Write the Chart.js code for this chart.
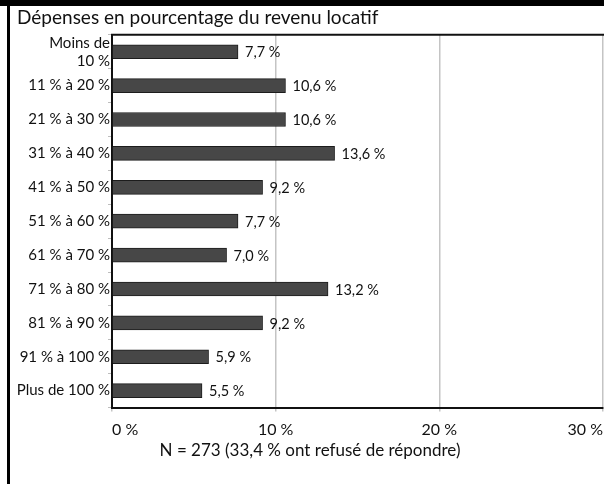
<!DOCTYPE html>
<html lang="fr">
<head>
    <meta charset="UTF-8">
    <title>Dépenses en pourcentage du revenu locatif</title>
    <script src="https://cdn.jsdelivr.net/npm/chart.js"></script>
    <style>
        body { margin: 0; background: #fff; }
        .wrap { position: relative; width: 604px; height: 484px; }
        .frame-top { position: absolute; left: 0; top: 0; width: 604px; height: 6px; background: #000; z-index: 2; }
        .frame-left { position: absolute; left: 7px; top: 0; width: 3px; height: 484px; background: #000; z-index: 2; }
        canvas { position: absolute; left: 0; top: 0; }
    </style>
</head>
<body>
    <div class="wrap">
        <div class="frame-top"></div>
        <div class="frame-left"></div>
        <canvas id="rentChart" width="604" height="484"></canvas>
    </div>

    <script>
        // Tranches de dépenses (en % du revenu locatif) et part des répondants
        const categories = [
            ['Moins de', '10 %'],
            '11 % à 20 %',
            '21 % à 30 %',
            '31 % à 40 %',
            '41 % à 50 %',
            '51 % à 60 %',
            '61 % à 70 %',
            '71 % à 80 %',
            '81 % à 90 %',
            '91 % à 100 %',
            'Plus de 100 %'
        ];
        const shares = [7.7, 10.6, 10.6, 13.6, 9.2, 7.7, 7.0, 13.2, 9.2, 5.9, 5.5];
        const axisMax = 30;
        const axisStep = 10;

        const font = 'Lato';
        const pct = v => v.toFixed(1).replace('.', ',') + ' %';

        // Valeur écrite au bout de chaque barre
        const valueLabels = {
            id: 'valueLabels',
            afterDatasetsDraw(chart) {
                const ctx = chart.ctx;
                const meta = chart.getDatasetMeta(0);
                ctx.save();
                ctx.font = '14.5px ' + font;
                ctx.fillStyle = '#111';
                ctx.textAlign = 'left';
                ctx.textBaseline = 'middle';
                meta.data.forEach((bar, i) => {
                    ctx.fillText(pct(shares[i]), bar.x + 7, bar.y + 1);
                });
                ctx.restore();
            }
        };

        // Trait noir en haut de la zone de tracé
        const topEdge = {
            id: 'topEdge',
            afterDraw(chart) {
                const { ctx, chartArea } = chart;
                ctx.save();
                ctx.strokeStyle = '#111';
                ctx.lineWidth = 2;
                ctx.beginPath();
                ctx.moveTo(chartArea.left - 1, chartArea.top);
                ctx.lineTo(chart.width, chartArea.top);
                ctx.stroke();
                ctx.restore();
            }
        };

        new Chart(document.getElementById('rentChart'), {
            type: 'bar',
            data: {
                labels: categories,
                datasets: [{
                    data: shares,
                    backgroundColor: '#474747',
                    borderColor: '#1c1c1c',
                    borderWidth: 1,
                    barThickness: 14
                }]
            },
            options: {
                indexAxis: 'y',
                responsive: false,
                animation: false,
                layout: { autoPadding: false, padding: { left: 17, right: 1, top: 0, bottom: 0 } },
                plugins: {
                    legend: { display: false },
                    tooltip: { enabled: false },
                    title: {
                        display: true,
                        text: 'Dépenses en pourcentage du revenu locatif',
                        align: 'start',
                        color: '#111',
                        font: { family: font, size: 19, weight: 'normal' },
                        padding: { top: 6, bottom: 6 }
                    },
                    subtitle: {
                        display: true,
                        position: 'bottom',
                        text: 'N = 273 (33,4 % ont refusé de répondre)',
                        color: '#111',
                        font: { family: font, size: 17, weight: 'normal' },
                        padding: { top: 0, bottom: 23 }
                    }
                },
                scales: {
                    x: {
                        min: 0,
                        max: axisMax,
                        afterFit(scale) {
                            scale.height = 33;
                            scale.paddingLeft = 0;
                            scale.paddingRight = 0;
                        },
                        ticks: {
                            stepSize: axisStep,
                            align: 'inner',
                            maxRotation: 0,
                            padding: 9,
                            color: '#111',
                            font: { family: font, size: 16 },
                            callback: v => v + ' %'
                        },
                        grid: {
                            color: ctx => ctx.tick && ctx.tick.value === 0 ? 'rgba(0,0,0,0)' : '#c4c4c4',
                            lineWidth: 1.5,
                            tickLength: 4,
                            tickColor: '#c4c4c4'
                        },
                        border: { display: true, color: '#111', width: 2 }
                    },
                    y: {
                        afterFit(scale) { scale.width = 95; },
                        ticks: {
                            autoSkip: false,
                            color: '#111',
                            padding: -2,
                            font: { family: font, size: 15 }
                        },
                        grid: {
                            drawOnChartArea: false,
                            tickLength: 4,
                            tickColor: '#bdbdbd'
                        },
                        border: { display: true, color: '#111', width: 2 }
                    }
                }
            },
            plugins: [valueLabels, topEdge]
        });
    </script>
</body>
</html>
